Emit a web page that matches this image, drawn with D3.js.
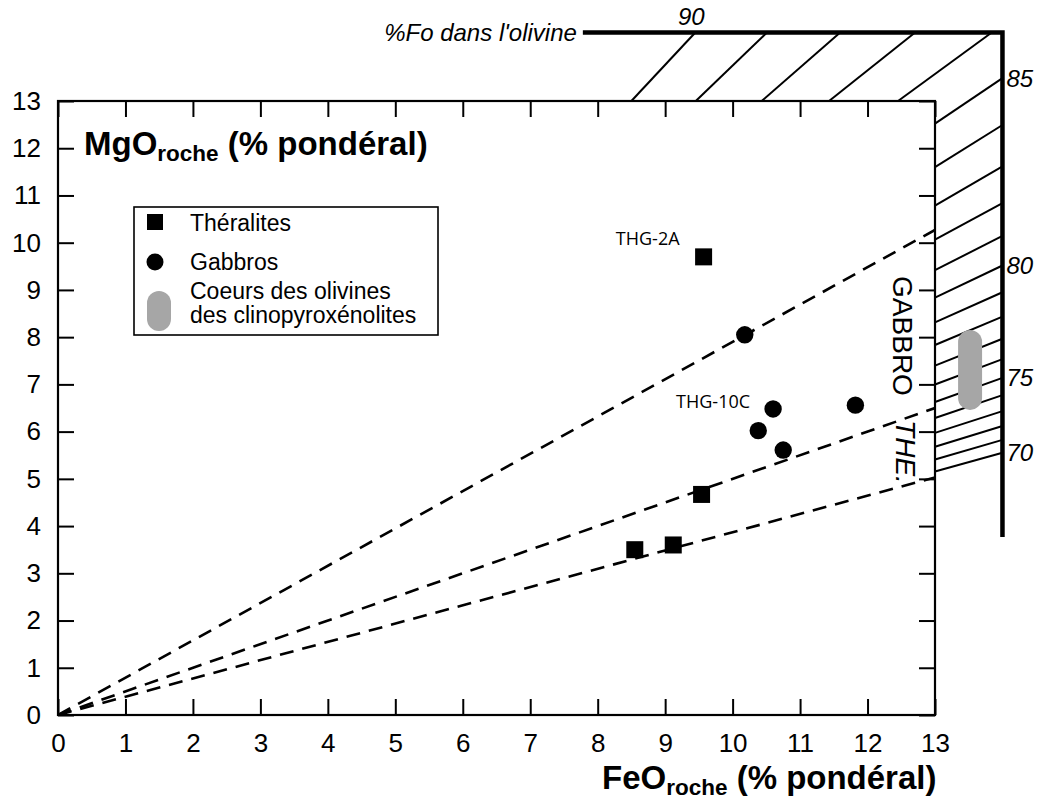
<!DOCTYPE html>
<html>
<head>
<meta charset="utf-8">
<script src="https://cdn.jsdelivr.net/npm/d3@7"></script>
<style>
  html, body { margin: 0; padding: 0; background: #fff; }
  svg { display: block; }
</style>
</head>
<body>
<svg id="chart" width="1040" height="801"></svg>
<script>
// ---------------- DATA ----------------
const xTickValues = [0,1,2,3,4,5,6,7,8,9,10,11,12,13];
const yTickValues = [0,1,2,3,4,5,6,7,8,9,10,11,12,13];

const theraliteFeO  = [9.57, 9.54, 8.55, 9.12];
const theraliteMgO  = [9.70, 4.67, 3.50, 3.60];
const theraliteName = ["THG-2A", "", "", ""];

const gabbroFeO  = [10.18, 10.60, 10.38, 10.75, 11.82];
const gabbroMgO  = [8.05, 6.48, 6.02, 5.61, 6.56];
const gabbroName = ["", "THG-10C", "", "", ""];

// MgO/FeO ratios of the dashed lines from the origin
const trendSlopes = [0.79, 0.50, 0.387];

// olivine Fo scale (hatch lines) and its labels
const foValues = [90,89,88,87,86,85,84,83,82,81,80,79,78,77,76,75,74,73,72,71,70];
const foLabels = [90, 85, 80, 75, 70];
const kdFeMg = 0.303;
const mgoFeoMolarMass = 40.3 / 71.85;

// olivine cores of clinopyroxenites (MgO range at FeO position)
const coreFeO = 13.52;
const coreMgO = [6.46, 8.15];

// ---------------- CHART ----------------
const svg = d3.select("#chart");
const x = d3.scaleLinear().domain([0, 13]).range([58, 935]);
const y = d3.scaleLinear().domain([0, 13]).range([715, 101]);
const outerFeO = 14, outerMgO = 14.45, outerStartFeO = 7.78, outerEndMgO = 3.77;

const sans = "'Liberation Sans', Arial, Helvetica, sans-serif";

// hatch lines (Fo iso-lines from the origin, between plot frame and outer frame)
function ratio(fo) { return kdFeMg * fo / (100 - fo) * mgoFeoMolarMass; }
function innerPt(r) { return 13 * r >= 13 ? [13 / r, 13] : [13, 13 * r]; }
function outerPt(r) { return outerFeO * r >= outerMgO ? [outerMgO / r, outerMgO] : [outerFeO, outerFeO * r]; }

const hatch = svg.append("g");
foValues.forEach(fo => {
  const r = ratio(fo), a = innerPt(r), b = outerPt(r);
  hatch.append("line")
    .attr("x1", x(a[0])).attr("y1", y(a[1]))
    .attr("x2", x(b[0])).attr("y2", y(b[1]))
    .attr("stroke", "#000").attr("stroke-width", 2);
});

// outer olivine frame
svg.append("path")
  .attr("d", `M${x(outerStartFeO)},${y(outerMgO)} L${x(outerFeO)},${y(outerMgO)} L${x(outerFeO)},${y(outerEndMgO)}`)
  .attr("fill", "none").attr("stroke", "#000").attr("stroke-width", 4.5)
  .attr("stroke-linejoin", "miter");

svg.append("text")
  .attr("x", x(outerStartFeO) - 6).attr("y", y(outerMgO))
  .attr("dy", "0.35em").attr("text-anchor", "end")
  .attr("font-family", sans).attr("font-style", "italic").attr("font-size", 24)
  .text("%Fo dans l'olivine");

foLabels.forEach(fo => {
  const r = ratio(fo), b = outerPt(r);
  const t = svg.append("text")
    .attr("font-family", sans).attr("font-style", "italic").attr("font-size", 24)
    .text(fo);
  if (b[1] >= outerMgO) {
    t.attr("x", x(b[0]) - 4).attr("y", y(outerMgO) - 8).attr("text-anchor", "middle");
  } else {
    t.attr("x", x(outerFeO) + 4).attr("y", y(b[1])).attr("dy", "0.35em").attr("text-anchor", "start");
  }
});

// olivine core capsule
svg.append("rect")
  .attr("x", x(coreFeO) - 12).attr("width", 24)
  .attr("y", y(coreMgO[1])).attr("height", y(coreMgO[0]) - y(coreMgO[1]))
  .attr("rx", 12).attr("ry", 12)
  .attr("fill", "#a6a6a6");

// plot area background
svg.append("rect")
  .attr("x", x(0)).attr("y", y(13))
  .attr("width", x(13) - x(0)).attr("height", y(0) - y(13))
  .attr("fill", "#fff");

// dashed trend lines
svg.append("defs").append("clipPath").attr("id", "plotclip")
  .append("rect").attr("x", x(0)).attr("y", y(13))
  .attr("width", x(13) - x(0)).attr("height", y(0) - y(13));

const trends = svg.append("g").attr("clip-path", "url(#plotclip)");
trendSlopes.forEach(s => {
  trends.append("line")
    .attr("x1", x(0)).attr("y1", y(0))
    .attr("x2", x(13)).attr("y2", y(13 * s))
    .attr("stroke", "#000").attr("stroke-width", 2.6)
    .attr("stroke-dasharray", "14,9");
});

// axes with inner ticks
const tickLen = 16;
const axB = svg.append("g").attr("transform", `translate(0,${y(0)})`)
  .call(d3.axisBottom(x).tickValues(xTickValues).tickFormat(d3.format("d"))
        .tickSizeInner(-tickLen).tickSizeOuter(0).tickPadding(19));
const axL = svg.append("g").attr("transform", `translate(${x(0)},0)`)
  .call(d3.axisLeft(y).tickValues(yTickValues).tickFormat(d3.format("d"))
        .tickSizeInner(-tickLen).tickSizeOuter(0).tickPadding(17));
const axT = svg.append("g").attr("transform", `translate(0,${y(13)})`)
  .call(d3.axisTop(x).tickValues(xTickValues).tickFormat("")
        .tickSizeInner(-tickLen).tickSizeOuter(0));
const axR = svg.append("g").attr("transform", `translate(${x(13)},0)`)
  .call(d3.axisRight(y).tickValues(yTickValues).tickFormat("")
        .tickSizeInner(-tickLen).tickSizeOuter(0));
[axB, axL, axT, axR].forEach(g => {
  g.select(".domain").remove();
  g.selectAll(".tick line").attr("stroke", "#000").attr("stroke-width", 2);
  g.selectAll(".tick text").attr("font-family", sans).attr("font-size", 26).attr("fill", "#000");
});

svg.append("rect")
  .attr("x", x(0)).attr("y", y(13))
  .attr("width", x(13) - x(0)).attr("height", y(0) - y(13))
  .attr("fill", "none").attr("stroke", "#000").attr("stroke-width", 2.2);

// axis titles
function titled(sel, main, sub, rest) {
  sel.attr("font-family", sans).attr("font-weight", "bold").attr("font-size", 33).attr("fill", "#000");
  sel.append("tspan").text(main);
  sel.append("tspan").attr("font-size", 22.5).attr("dy", 6).text(sub);
  sel.append("tspan").attr("dy", -6).text(rest);
}
titled(svg.append("text").attr("x", 84).attr("y", 155), "MgO", "roche", " (% pondéral)");
titled(svg.append("text").attr("x", 602).attr("y", 789), "FeO", "roche", " (% pondéral)");

// field labels
svg.append("text")
  .attr("transform", `translate(${903},${336}) rotate(90)`)
  .attr("text-anchor", "middle").attr("dy", "0.35em")
  .attr("font-family", sans).attr("font-size", 28)
  .text("GABBRO");
svg.append("text")
  .attr("transform", `translate(${906},${452}) rotate(90)`)
  .attr("text-anchor", "middle").attr("dy", "0.35em")
  .attr("font-family", sans).attr("font-style", "italic").attr("font-size", 28)
  .text("THE.");

// data points
const ther = theraliteFeO.map((v, i) => ({ feo: v, mgo: theraliteMgO[i], name: theraliteName[i] }));
const gab = gabbroFeO.map((v, i) => ({ feo: v, mgo: gabbroMgO[i], name: gabbroName[i] }));

svg.append("g").selectAll("rect").data(ther).join("rect")
  .attr("x", d => x(d.feo) - 8.5).attr("y", d => y(d.mgo) - 8.5)
  .attr("width", 17).attr("height", 17).attr("fill", "#000");
svg.append("g").selectAll("circle").data(gab).join("circle")
  .attr("cx", d => x(d.feo)).attr("cy", d => y(d.mgo)).attr("r", 8.7).attr("fill", "#000");

const labFont = "'Open Sans', 'Liberation Sans', sans-serif";
ther.filter(d => d.name).forEach(d => {
  svg.append("text").attr("x", x(d.feo) - 24).attr("y", y(d.mgo) - 12)
    .attr("text-anchor", "end").attr("font-family", labFont).attr("font-size", 18).text(d.name);
});
gab.filter(d => d.name).forEach(d => {
  svg.append("text").attr("x", x(d.feo) - 23).attr("y", y(d.mgo) - 1)
    .attr("text-anchor", "end").attr("font-family", labFont).attr("font-size", 18).text(d.name);
});

// legend
const lg = svg.append("g");
lg.append("rect").attr("x", 134).attr("y", 207).attr("width", 304).attr("height", 128)
  .attr("fill", "#fff").attr("stroke", "#000").attr("stroke-width", 1.6);
lg.append("rect").attr("x", 147).attr("y", 214).attr("width", 16).attr("height", 16).attr("fill", "#000");
lg.append("circle").attr("cx", 155).attr("cy", 262).attr("r", 8.5).attr("fill", "#000");
lg.append("rect").attr("x", 147).attr("y", 291).attr("width", 24).attr("height", 40)
  .attr("rx", 12).attr("ry", 12).attr("fill", "#a6a6a6");
const lgFont = 23;
lg.append("text").attr("x", 190).attr("y", 231)
  .attr("font-family", sans).attr("font-size", lgFont).text("Théralites");
lg.append("text").attr("x", 190).attr("y", 270)
  .attr("font-family", sans).attr("font-size", lgFont).text("Gabbros");
const lt = lg.append("text").attr("x", 190).attr("y", 299)
  .attr("font-family", sans).attr("font-size", lgFont);
lt.append("tspan").attr("x", 190).text("Coeurs des olivines");
lt.append("tspan").attr("x", 190).attr("dy", 24).text("des clinopyroxénolites");
</script>
</body>
</html>
